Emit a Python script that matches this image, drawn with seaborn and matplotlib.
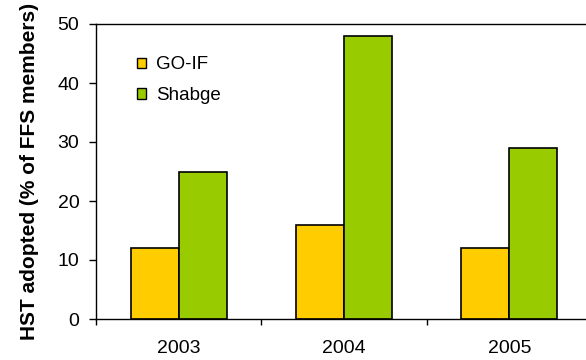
import matplotlib
matplotlib.use("Agg")
import matplotlib.pyplot as plt
import seaborn as sns
import pandas as pd
from matplotlib.ticker import FixedLocator

years = ["2003", "2004", "2005"]
series = ["GO-IF", "Shabge"]
go_if = [12, 16, 12]
shabge = [25, 48, 29]
colors = ["#FFCC00", "#99CC00"]

df = pd.DataFrame({
    "year": years * 2,
    "group": [series[0]] * 3 + [series[1]] * 3,
    "value": go_if + shabge,
})

sns.set_theme(style="white")
plt.rcParams["font.family"] = ["Liberation Sans", "DejaVu Sans"]

fig = plt.figure(figsize=(5.86, 3.60), dpi=100)
W, H = 586, 360
ax = fig.add_axes([96 / W, (H - 319) / H, (592 - 96) / W, (319 - 24) / H])

sns.barplot(data=df, x="year", y="value", hue="group", order=years,
            hue_order=series, palette=colors, width=0.58,
            edgecolor="black", linewidth=1.2, saturation=1, ax=ax)

ax.set_xlim(-0.5, 2.5)
ax.set_ylim(0, 50)
ax.set_yticks([0, 10, 20, 30, 40, 50])
ax.tick_params(axis="y", direction="out", length=5, width=1, color="black",
               labelsize=14, pad=7, left=True, labelcolor="black")
ax.tick_params(axis="x", which="major", length=0, labelsize=14, pad=15,
               labelcolor="black")
ax.xaxis.set_minor_locator(FixedLocator([-0.5, 0.5, 1.5, 2.5]))
ax.tick_params(axis="x", which="minor", direction="out", length=4.5, width=1,
               color="black", bottom=True)

for s in ["left", "top", "bottom"]:
    ax.spines[s].set_visible(True)
    ax.spines[s].set_color("black")
    ax.spines[s].set_linewidth(1)
ax.spines["right"].set_visible(False)

ax.set_xlabel("")
ax.set_ylabel("HST adopted (% of FFS members)", fontsize=15, fontweight="bold",
              labelpad=13, color="black")

leg = ax.legend(loc="upper left", bbox_to_anchor=(0.083, 0.89), frameon=False,
                fontsize=13.5, handlelength=0.48, handleheight=0.48,
                handletextpad=0.55, labelspacing=0.73, borderpad=0,
                borderaxespad=0)
for h in leg.legend_handles:
    h.set_edgecolor("black")
    h.set_linewidth(1)
for t in leg.get_texts():
    t.set_color("black")

fig.savefig("out.png", dpi=100)
